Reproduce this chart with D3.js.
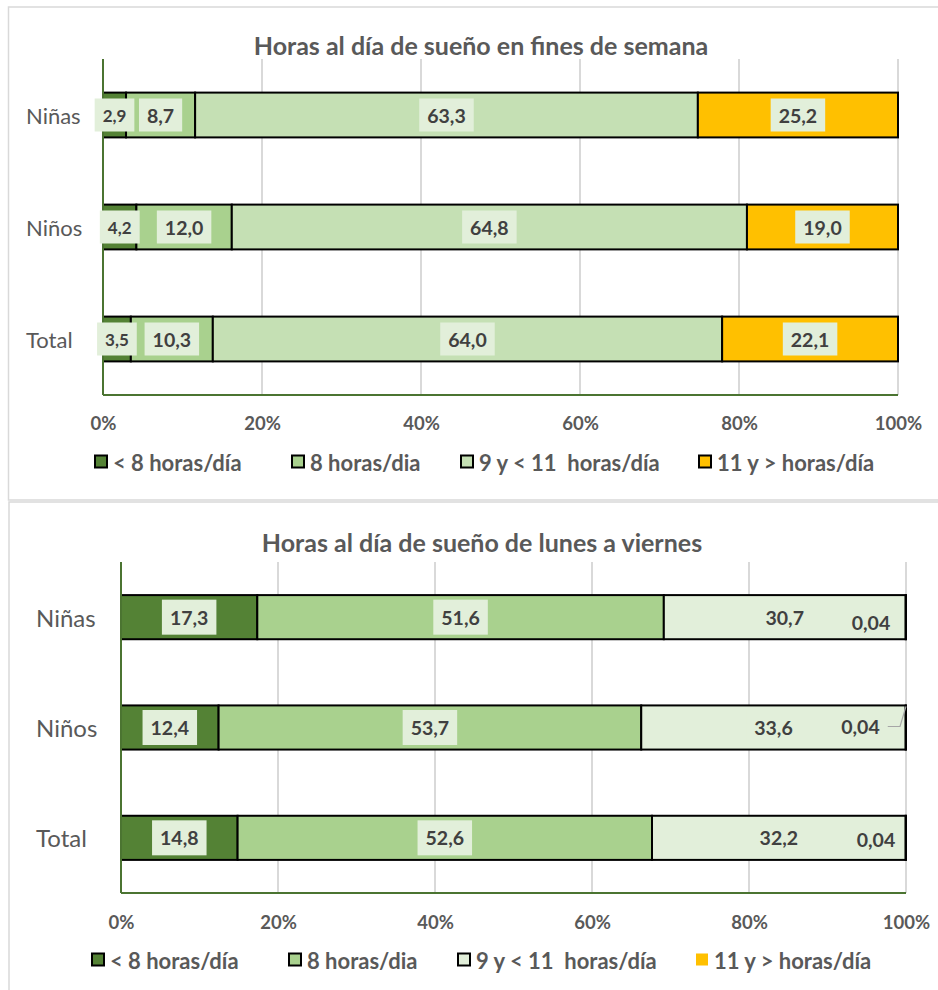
<!DOCTYPE html>
<html>
<head>
<meta charset="utf-8">
<script src="https://cdn.jsdelivr.net/npm/d3@7"></script>
<style>
  html, body { margin: 0; padding: 0; background: #fff; }
  svg { display: block; font-family: Lato, "Open Sans", sans-serif; }
  text { white-space: pre; }
</style>
</head>
<body>
<svg id="chart" width="938" height="990"></svg>
<script>
// Categories and series
const categories = ["Niñas", "Niños", "Total"];
const seriesNames = ["< 8 horas/día", "8 horas/dia", "9 y < 11  horas/día", "11 y > horas/día"];

// Fines de semana (%)
const findeMenos8 = [2.9, 4.2, 3.5];
const finde8 = [8.7, 12.0, 10.3];
const finde9a11 = [63.3, 64.8, 64.0];
const findeMas11 = [25.2, 19.0, 22.1];

// Lunes a viernes (%)
const semanaMenos8 = [17.3, 12.4, 14.8];
const semana8 = [51.6, 53.7, 52.6];
const semana9a11 = [30.7, 33.6, 32.2];
const semanaMas11 = [0.04, 0.04, 0.04];

// Axis ticks (share of the 100% stacked bar)
const xTicks = [0, 0.2, 0.4, 0.6, 0.8, 1];

const es = d3.formatLocale({ decimal: ",", thousands: ".", grouping: [3], currency: ["", " €"] });
const f1 = es.format(".1f"), f2 = es.format(".2f");
const fmtValue = v => (v < 0.1 ? f2 : f1)(v);
const fmtTick = d3.format(".0%");

const TEXT = "#595959", LABEL = "#404040", GRID = "#d9d9d9", AXIS = "#4b7431", BOX = "#e2efda";

const svg = d3.select("#chart");
svg.append("rect").attr("width", 938).attr("height", 990).attr("fill", "#fff");

// Panel frames
svg.append("rect").attr("x", 8.5).attr("y", 7).attr("width", 960).attr("height", 493)
  .attr("fill", "none").attr("stroke", GRID).attr("stroke-width", 1.5);
svg.append("rect").attr("x", 9).attr("y", 502).attr("width", 960).attr("height", 520)
  .attr("fill", "none").attr("stroke", GRID).attr("stroke-width", 1.5);

function drawChart(cfg) {
  const g = svg.append("g");
  const rows = categories.map((c, i) => {
    const r = { cat: c };
    cfg.series.forEach((s, k) => r[seriesNames[k]] = s[i]);
    return r;
  });
  const stacked = d3.stack().keys(seriesNames).offset(d3.stackOffsetExpand)(rows);

  const x = d3.scaleLinear().domain([0, 1]).range(cfg.xRange);
  const y = d3.scaleBand().domain(categories).range(cfg.yRange).paddingInner(0.6).paddingOuter(0.3);

  // Title
  g.append("text").attr("x", cfg.titleX).attr("y", cfg.titleY)
    .attr("text-anchor", "middle").attr("dominant-baseline", "central")
    .attr("font-size", 25).attr("font-weight", 700).attr("fill", TEXT).text(cfg.title);

  // Gridlines
  g.append("g").selectAll("line").data(xTicks.filter(t => t > 0)).join("line")
    .attr("x1", d => x(d)).attr("x2", d => x(d))
    .attr("y1", cfg.yRange[0]).attr("y2", cfg.yRange[1])
    .attr("stroke", GRID).attr("stroke-width", 2);

  // Tick labels
  const xAxis = d3.axisBottom(x).tickValues(xTicks).tickFormat(fmtTick).tickSize(0).tickPadding(0);
  const ax = g.append("g").attr("transform", `translate(0,${cfg.tickY})`).call(xAxis);
  ax.select(".domain").remove();
  ax.selectAll("text").attr("dy", null).attr("dominant-baseline", "central")
    .attr("font-family", "Lato, sans-serif").attr("font-size", 18.5).attr("font-weight", 700).attr("fill", TEXT);

  // Category labels
  g.append("g").selectAll("text").data(categories).join("text")
    .attr("x", cfg.catX).attr("y", d => y(d) + y.bandwidth() / 2)
    .attr("dominant-baseline", "central").attr("font-size", cfg.catSize).attr("fill", TEXT).text(d => d);

  // Bars
  const layers = g.append("g").selectAll("g").data(stacked).join("g")
    .attr("fill", (d, k) => cfg.colors[k]);
  layers.selectAll("rect").data(d => d.map(p => ({ p, cat: p.data.cat }))).join("rect")
    .attr("x", d => x(d.p[0])).attr("width", d => x(d.p[1]) - x(d.p[0]))
    .attr("y", d => y(d.cat)).attr("height", y.bandwidth())
    .attr("stroke", "#000").attr("stroke-width", 2);

  // Axes lines
  g.append("line").attr("x1", cfg.xRange[0]).attr("x2", cfg.xRange[0])
    .attr("y1", cfg.yRange[0]).attr("y2", cfg.yRange[1]).attr("stroke", AXIS).attr("stroke-width", 2);
  g.append("line").attr("x1", cfg.xRange[0]).attr("x2", cfg.xRange[1])
    .attr("y1", cfg.yRange[1]).attr("y2", cfg.yRange[1]).attr("stroke", AXIS).attr("stroke-width", 2);

  // Value labels
  const lg = g.append("g");
  stacked.forEach((layer, k) => {
    layer.forEach((p, i) => {
      const v = cfg.series[k][i];
      const cy = y(categories[i]) + y.bandwidth() / 2;
      const nudge = cfg.nudge && cfg.nudge[k] ? cfg.nudge[k][i] : null;
      let cx = (x(p[0]) + x(p[1])) / 2, ty = cy;
      if (nudge) { cx = x(1) + nudge[0]; ty = cy + nudge[1]; }
      const size = cfg.smallFirst && k === 0 ? 17 : 19.5;
      const grp = lg.append("g");
      const box = grp.append("rect").attr("fill", BOX);
      const t = grp.append("text").attr("x", cx).attr("y", ty)
        .attr("text-anchor", "middle").attr("dominant-baseline", "central")
        .attr("font-size", size).attr("font-weight", 700).attr("fill", LABEL).text(fmtValue(v));
      const bb = t.node().getBBox();
      if (nudge) {
        box.remove();
        if (nudge[2]) {
          const xe = x(1);
          grp.append("path")
            .attr("d", `M${bb.x + bb.width + 8},${ty}H${xe - 6}L${xe},${y(categories[i]) + 1}`)
            .attr("fill", "none").attr("stroke", "#a6a6a6").attr("stroke-width", 1.2);
        }
      } else {
        box.attr("x", bb.x - 8).attr("width", bb.width + 16)
          .attr("y", cy - cfg.boxH / 2).attr("height", cfg.boxH);
      }
    });
  });

  // Legend
  const leg = g.append("g").attr("transform", `translate(${cfg.legendX},${cfg.legendY})`);
  seriesNames.forEach((name, k) => {
    const it = leg.append("g").attr("transform", `translate(${cfg.legendOffsets[k]},0)`);
    it.append("rect").attr("x", 1).attr("y", -6.5).attr("width", 12).attr("height", 12)
      .attr("fill", cfg.colors[k])
      .attr("stroke", cfg.legendNoStroke === k ? "none" : "#000").attr("stroke-width", 2);
    it.append("text").attr("x", 19).attr("y", 0).attr("dominant-baseline", "central")
      .attr("font-size", 22).attr("font-weight", 700).attr("fill", TEXT).text(name);
  });
}

drawChart({
  title: "Horas al día de sueño en fines de semana",
  series: [findeMenos8, finde8, finde9a11, findeMas11],
  colors: ["#548235", "#a9d18e", "#c5e0b4", "#ffc000"],
  xRange: [103, 898], yRange: [59, 395],
  titleX: 481, titleY: 45, tickY: 423, catX: 26, catSize: 22,
  boxH: 33, smallFirst: true,
  legendX: 94, legendY: 462, legendOffsets: [0, 197, 366, 604]
});

drawChart({
  title: "Horas al día de sueño de lunes a viernes",
  series: [semanaMenos8, semana8, semana9a11, semanaMas11],
  colors: ["#548235", "#a9d18e", "#e2efda", "#ffc000"],
  xRange: [121, 906], yRange: [562, 893],
  titleX: 482, titleY: 542, tickY: 922, catX: 36, catSize: 24,
  boxH: 35, smallFirst: false,
  nudge: [null, null, null, [[-35, 5], [-45.5, -1, true], [-30, 2]]],
  legendX: 91, legendY: 960, legendOffsets: [0, 197, 366, 604], legendNoStroke: 3
});
</script>
</body>
</html>
